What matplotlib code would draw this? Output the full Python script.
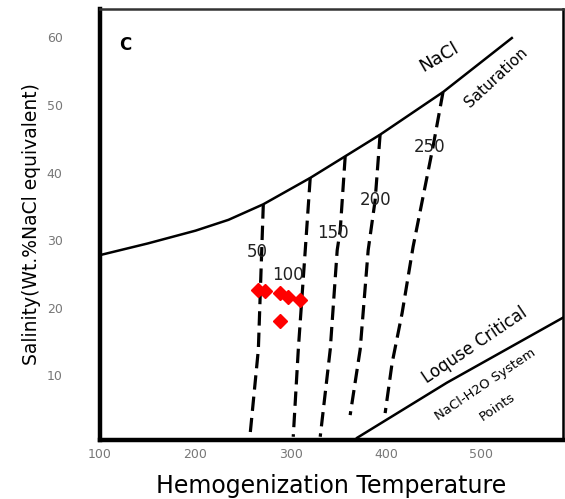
import matplotlib.pyplot as plt

# NaCl saturation curve (temperature, salinity)
SAT_T = [100.6, 150.0, 200.3, 234.8, 271.3, 320.5, 357.2, 393.8, 459.8, 532.0]
SAT_S = [27.8, 29.5, 31.4, 33.0, 35.3, 39.2, 42.4, 45.6, 51.9, 59.9]

# Isochores (dashed), one list pair per density label
ISO_LABELS = ["50", "100", "150", "200", "250"]
ISO_T = [
    [271.3, 266.1, 257.7],
    [320.5, 315.3, 308.0, 302.7],
    [357.2, 352.0, 348.8, 341.5, 331.0],
    [393.8, 388.6, 381.3, 372.9, 362.4],
    [459.8, 449.3, 428.4, 416.9, 406.4, 399.1],
]
ISO_S = [
    [35.3, 13.8, 1.6],
    [39.2, 28.5, 13.8, 0.9],
    [42.4, 31.5, 28.5, 13.8, 0.9],
    [45.6, 35.9, 28.5, 13.8, 4.1],
    [51.9, 43.8, 29.0, 19.2, 11.8, 4.4],
]
ISO_LABEL_T = [265.0, 297.5, 344.6, 388.6, 446.0]
ISO_LABEL_S = [28.3, 24.9, 31.1, 35.9, 43.8]

# Critical curve of the NaCl-H2O system
CRIT_T = [369.7, 463.9, 585.4]
CRIT_S = [0.74, 8.9, 18.5]

# Fluid inclusion measurements
INC_T = [266.1, 273.4, 289.1, 297.5, 310.1, 289.1]
INC_S = [22.6, 22.5, 22.2, 21.6, 21.2, 18.0]

fig = plt.figure(figsize=(5.65, 4.99), dpi=100)
ax = fig.add_axes([0.177, 0.118, 0.819, 0.864])

# Saturation curve.
ax.plot(SAT_T, SAT_S, color='black', lw=1.8)

# Isochores.
for t, s in zip(ISO_T, ISO_S):
    ax.plot(t, s, color='black', lw=2.3, linestyle=(0, (4.5, 2.2)))
for lab, t, s in zip(ISO_LABELS, ISO_LABEL_T, ISO_LABEL_S):
    ax.text(t, s, lab, fontsize=12, ha='center', va='center', color='#222222')

# Critical curve.
ax.plot(CRIT_T, CRIT_S, color='black', lw=1.8)

# Inclusions.
ax.plot(INC_T, INC_S, linestyle='none', marker='D', markersize=7,
        color='#ff0000', markeredgecolor='#ff0000')

# Annotations.
ax.text(126, 58.9, "C", fontsize=12, fontweight='bold', ha='center', va='center')
ax.text(455.6, 57.1, "NaCl", fontsize=13, rotation=30, ha='center', va='center')
ax.text(516, 54.1, "Saturation", fontsize=11, rotation=43, ha='center', va='center')
ax.text(493, 14.5, "Loquse Critical", fontsize=12, rotation=34, ha='center', va='center')
ax.text(504, 8.6, "NaCl-H2O System", fontsize=9.5, rotation=34, ha='center', va='center')
ax.text(516.4, 5.3, "Points", fontsize=9.5, rotation=34, ha='center', va='center')

# Axes.
ax.set_xlim(100.6, 585.4)
ax.set_ylim(0.4, 64.2)
ax.set_xticks([100, 200, 300, 400, 500])
ax.set_yticks([10, 20, 30, 40, 50, 60])
ax.tick_params(axis='both', length=0, labelsize=9, labelcolor='#777777')
ax.tick_params(axis='y', pad=27)
ax.tick_params(axis='x', pad=6)

ax.spines['left'].set_linewidth(3.2)
ax.spines['bottom'].set_linewidth(3.2)
ax.spines['top'].set_linewidth(1.8)
ax.spines['right'].set_linewidth(1.8)
ax.spines['top'].set_color('#333333')

ax.set_xlabel("Hemogenization Temperature", fontsize=17, labelpad=9)
ax.set_ylabel("Salinity(Wt.%NaCl equivalent)", fontsize=13.5, labelpad=4)

plt.savefig("out.png", dpi=100)
